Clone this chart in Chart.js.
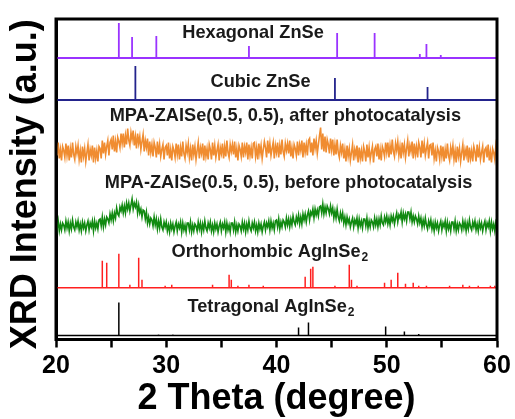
<!DOCTYPE html>
<html><head><meta charset="utf-8">
<script src="https://cdn.jsdelivr.net/npm/chart.js@4/dist/chart.umd.min.js"></script>
<style>html,body{margin:0;padding:0;background:#fff;}</style>
</head><body>
<canvas id="c" width="515" height="419"></canvas>
<script>
// ---- data ----
const thetaStart = 20, thetaStep = 0.1;   // sampling grid of the measured patterns
const xTickLabels = ['20', '30', '40', '50', '60'];

const panelNames = ['Hexagonal ZnSe', 'Cubic ZnSe', 'MPA-ZAISe(0.5, 0.5), after photocatalysis',
  'MPA-ZAISe(0.5, 0.5), before photocatalysis', 'Orthorhombic AgInSe', 'Tetragonal AgInSe'];
const panelSubs = ['', '', '', '', '2', '2'];

const hexPos = [25.7, 26.9, 29.1, 37.5, 45.5, 48.9, 53.0, 53.6, 54.9];
const hexInt = [35, 21, 22, 12, 25, 25, 4, 14, 3];

const cubicPos = [27.2, 45.3, 53.7];
const cubicInt = [34, 22, 13];

const orthoPos = [24.2, 24.6, 25.7, 26.7, 27.5, 27.8, 29.9, 30.5, 34.2, 35.7, 35.9, 36.5, 37.5, 38.8,
  42.6, 43.1, 43.3, 45.3, 46.6, 46.8, 47.3, 49.8, 50.4, 51.0, 51.7, 52.4, 52.9, 53.6, 55.7, 56.9, 57.5, 58.3, 59.4, 59.8];
const orthoInt = [27, 25, 34, 3, 30, 8, 2, 3, 3, 13, 8, 2, 3, 2,
  11, 19, 21, 2, 23, 8, 2, 5, 8, 15, 4, 5, 2, 2, 2, 3, 2, 2, 2, 2];

const tetraPos = [25.7, 29.3, 30.6, 42.0, 42.9, 49.9, 51.6, 52.9];
const tetraInt = [33, 1, 1, 8, 13, 9, 4, 1.5];

const afterInt = [
  18, 8, 21, 5, 14, 3, 17, 13, 6, 20,
  8, 18, 3, 15, 6, 21, 9, 4, 17, 10,
  18, 4, 13, 1, 17, 7, 15, 2, 11, 19,
  3, 14, 8, 18, 1, 16, 5, 13, 2, 17,
  15, 5, 23, 10, 21, 9, 17, 23, 8, 21,
  24, 14, 28, 12, 22, 11, 26, 22, 16, 30,
  20, 30, 16, 28, 19, 35, 23, 18, 31, 24,
  33, 18, 27, 15, 30, 20, 27, 14, 22, 29,
  12, 23, 16, 25, 8, 22, 11, 19, 7, 21,
  16, 6, 22, 9, 19, 7, 14, 19, 4, 16,
  18, 8, 21, 5, 14, 3, 17, 13, 6, 20,
  9, 19, 4, 16, 7, 22, 10, 5, 18, 11,
  20, 6, 15, 3, 19, 9, 17, 4, 13, 21,
  5, 16, 10, 20, 3, 18, 7, 15, 4, 19,
  14, 4, 21, 8, 18, 6, 13, 19, 3, 16,
  10, 20, 5, 17, 7, 23, 11, 6, 19, 12,
  19, 9, 22, 6, 15, 3, 18, 14, 7, 21,
  6, 17, 11, 21, 4, 19, 8, 16, 5, 20,
  21, 7, 16, 4, 20, 10, 18, 5, 14, 22,
  16, 6, 23, 10, 20, 8, 15, 21, 5, 18,
  11, 21, 6, 18, 9, 24, 12, 7, 20, 13,
  20, 10, 23, 7, 16, 5, 19, 15, 8, 22,
  8, 19, 13, 23, 6, 21, 11, 19, 8, 23,
  25, 11, 21, 8, 25, 15, 23, 10, 19, 28,
  36, 14, 30, 12, 27, 11, 24, 19, 10, 25,
  14, 24, 8, 19, 9, 24, 11, 6, 18, 11,
  20, 5, 14, 2, 18, 7, 15, 3, 11, 19,
  3, 14, 8, 18, 1, 16, 5, 13, 2, 17,
  12, 2, 19, 6, 16, 4, 11, 17, 1, 14,
  17, 7, 20, 4, 14, 3, 17, 13, 7, 21,
  11, 21, 6, 18, 9, 24, 12, 7, 20, 13,
  22, 8, 17, 5, 21, 11, 19, 6, 15, 23,
  7, 18, 12, 22, 5, 20, 9, 17, 6, 21,
  16, 6, 23, 10, 20, 8, 15, 21, 5, 18,
  19, 8, 21, 5, 13, 2, 16, 12, 4, 18,
  7, 17, 2, 14, 5, 20, 8, 3, 16, 9,
  18, 4, 13, 1, 17, 7, 15, 2, 11, 19,
  3, 14, 8, 18, 1, 16, 5, 13, 2, 17,
  12, 2, 19, 6, 16, 4, 11, 17, 1, 14,
  16, 6, 19, 3, 12, 1, 15, 11, 4, 18,
  11];

const beforeInt = [
  13, 6, 14, 4, 11, 5, 12, 10, 5, 14,
  7, 13, 4, 12, 6, 15, 8, 5, 13, 8,
  14, 5, 11, 4, 13, 7, 12, 4, 10, 14,
  5, 12, 8, 14, 4, 14, 7, 12, 6, 15,
  16, 9, 18, 8, 16, 10, 18, 16, 12, 21,
  15, 22, 14, 22, 17, 27, 21, 19, 28, 24,
  30, 22, 29, 22, 32, 26, 32, 24, 30, 36,
  26, 32, 28, 33, 22, 30, 22, 26, 18, 25,
  24, 16, 23, 12, 18, 11, 17, 15, 9, 18,
  10, 16, 6, 14, 7, 16, 8, 5, 13, 8,
  13, 4, 10, 3, 12, 6, 11, 3, 9, 13,
  4, 11, 7, 13, 3, 12, 5, 10, 3, 12,
  12, 5, 13, 3, 10, 4, 11, 9, 4, 13,
  6, 12, 3, 11, 5, 14, 7, 4, 12, 7,
  13, 4, 10, 3, 12, 6, 11, 3, 9, 13,
  4, 11, 7, 13, 3, 12, 5, 10, 3, 12,
  12, 5, 13, 3, 10, 4, 11, 9, 4, 13,
  6, 12, 3, 11, 5, 14, 7, 4, 12, 7,
  13, 4, 10, 3, 12, 6, 11, 3, 9, 13,
  5, 12, 8, 14, 5, 14, 7, 12, 5, 14,
  15, 8, 16, 6, 13, 8, 15, 13, 8, 17,
  10, 16, 8, 16, 10, 19, 13, 10, 18, 13,
  20, 11, 18, 11, 21, 15, 21, 13, 20, 24,
  15, 23, 20, 26, 17, 26, 20, 25, 19, 28,
  29, 22, 31, 21, 28, 22, 29, 26, 21, 29,
  22, 27, 17, 24, 17, 26, 18, 14, 22, 16,
  22, 12, 18, 10, 18, 12, 16, 8, 13, 17,
  8, 15, 11, 17, 7, 16, 9, 14, 7, 16,
  16, 9, 17, 7, 14, 8, 15, 13, 8, 17,
  10, 16, 8, 16, 10, 19, 12, 10, 18, 13,
  19, 11, 17, 10, 19, 14, 19, 11, 17, 22,
  13, 20, 17, 23, 13, 22, 16, 21, 14, 23,
  23, 16, 23, 13, 19, 13, 19, 16, 11, 19,
  12, 17, 8, 15, 9, 17, 10, 6, 14, 9,
  15, 6, 12, 4, 13, 7, 12, 4, 10, 14,
  5, 12, 8, 14, 4, 13, 6, 11, 4, 13,
  13, 6, 14, 4, 11, 5, 12, 10, 5, 14,
  7, 13, 4, 12, 6, 15, 8, 5, 13, 8,
  14, 5, 11, 4, 13, 7, 12, 4, 10, 14,
  5, 12, 8, 14, 4, 13, 6, 11, 4, 13,
  10];

// ---- layout / style (not data) ----
const X_MIN = 20, X_MAX = 60, Y_MAX = 320.5;
const offsets = [281.5, 239.5, 176, 104.5, 51.8, 4];
const colors = ['#9a33ff', '#23238c', '#f08c30', '#118a11', '#ff1f1f', '#000000'];
const labelAnchors = [[37.87, 306.5], [38.55, 257.5], [40.8, 223.5], [41.1, 156.5], [39.4, 87.5], [39.5, 32.5]];
const FONT = '"Liberation Sans", Arial, Helvetica, sans-serif';

function sticks(pos, ints, off) {
  const pts = [{x: X_MIN, y: off}];
  pos.forEach((p, i) => { pts.push({x: p, y: off}, {x: p, y: off + ints[i]}, {x: p, y: off}); });
  pts.push({x: X_MAX, y: off});
  return pts;
}
function pattern(ints, off) {
  return ints.map((v, i) => ({x: thetaStart + i * thetaStep, y: off + v}));
}

const datasets = [
  {data: sticks(hexPos, hexInt, offsets[0]), borderColor: colors[0], borderWidth: 1.8},
  {data: sticks(cubicPos, cubicInt, offsets[1]), borderColor: colors[1], borderWidth: 1.8},
  {data: pattern(afterInt, offsets[2]), borderColor: colors[2], borderWidth: 1.6},
  {data: pattern(beforeInt, offsets[3]), borderColor: colors[3], borderWidth: 1.6},
  {data: sticks(orthoPos, orthoInt, offsets[4]), borderColor: colors[4], borderWidth: 1.5},
  {data: sticks(tetraPos, tetraInt, offsets[5]), borderColor: colors[5], borderWidth: 1.5}
].map(d => Object.assign(d, {pointRadius: 0, tension: 0, fill: false}));

const framePlugin = {
  id: 'frame',
  afterDatasetsDraw(chart) {
    const {ctx, chartArea: a, scales} = chart;
    ctx.save();
    ctx.strokeStyle = '#000';
    ctx.lineWidth = 3;
    ctx.strokeRect(a.left, a.top, a.right - a.left, a.bottom - a.top);
    // panel labels
    ctx.fillStyle = '#1a1a1a';
    ctx.textBaseline = 'middle';
    panelNames.forEach((t, i) => {
      const cx = scales.x.getPixelForValue(labelAnchors[i][0]);
      const cy = scales.y.getPixelForValue(labelAnchors[i][1]);
      ctx.font = 'bold 18.2px ' + FONT;
      const w1 = ctx.measureText(t).width;
      let w2 = 0;
      if (panelSubs[i]) { ctx.font = 'bold 12px ' + FONT; w2 = ctx.measureText(panelSubs[i]).width + 1; }
      const x0 = cx - (w1 + w2) / 2;
      ctx.font = 'bold 18.2px ' + FONT;
      ctx.textAlign = 'left';
      ctx.fillText(t, x0, cy);
      if (panelSubs[i]) { ctx.font = 'bold 12px ' + FONT; ctx.fillText(panelSubs[i], x0 + w1 + 1, cy + 6); }
    });
    ctx.restore();
  }
};

new Chart(document.getElementById('c'), {
  type: 'line',
  data: {datasets},
  options: {
    responsive: false,
    animation: false,
    events: [],
    layout: {padding: {top: 19, right: 18, left: 0, bottom: 0}},
    plugins: {legend: {display: false}, tooltip: {enabled: false}},
    scales: {
      x: {
        type: 'linear', min: X_MIN, max: X_MAX,
        afterFit: s => { s.height = 79.5; },
        ticks: {
          stepSize: 5, color: '#000', padding: 4, maxRotation: 0, autoSkip: false,
          font: {family: FONT, size: 25, weight: 'bold'},
          callback: v => (v % 10 === 0 ? xTickLabels[(v - X_MIN) / 10] : '')
        },
        grid: {drawOnChartArea: false, drawTicks: true, tickLength: 8, tickWidth: 2.5, tickColor: '#000'},
        border: {display: true, color: '#000', width: 3},
        title: {display: true, text: '2 Theta (degree)', color: '#000',
          font: {family: FONT, size: 36, weight: 'bold', lineHeight: 1.0}, padding: {top: 0, bottom: 1.5}}
      },
      y: {
        type: 'linear', min: 0, max: Y_MAX,
        afterFit: s => { s.width = 56; },
        ticks: {display: false},
        grid: {display: false},
        border: {display: true, color: '#000', width: 3},
        title: {display: true, text: 'XRD Intensity (a.u.) ', color: '#000',
          font: {family: FONT, size: 36, weight: 'bold', lineHeight: 1.2}, padding: {top: 4, bottom: 0}}
      }
    }
  },
  plugins: [framePlugin]
});
</script>
</body></html>
